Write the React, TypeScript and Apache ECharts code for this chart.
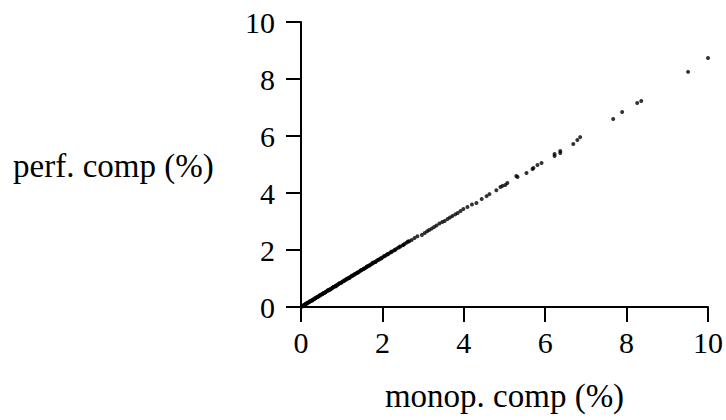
import React, { useEffect, useRef } from "react";
import * as echarts from "echarts";

const xTicks = [0, 2, 4, 6, 8, 10];
const xAxisTitle = "monop. comp (%)";
const yAxisTitle = "perf. comp (%)";

const monopComp = [
  0.02, 0.04, 0.05, 0.07, 0.09, 0.1, 0.12, 0.14, 0.15, 0.17, 0.19, 0.21, 0.23, 0.25, 0.27, 0.29,
  0.31, 0.33, 0.35, 0.37, 0.39, 0.41, 0.43, 0.45, 0.47, 0.5, 0.52, 0.54, 0.56, 0.58, 0.6, 0.62,
  0.65, 0.67, 0.69, 0.71, 0.74, 0.76, 0.78, 0.8, 0.83, 0.85, 0.87, 0.9, 0.92, 0.95, 0.97, 1.0,
  1.02, 1.05, 1.07, 1.1, 1.12, 1.15, 1.18, 1.2, 1.23, 1.26, 1.28, 1.31, 1.34, 1.37, 1.4, 1.43,
  1.46, 1.49, 1.52, 1.55, 1.58, 1.61, 1.64, 1.67, 1.7, 1.74, 1.77, 1.8, 1.84, 1.87, 1.91, 1.95,
  1.99, 2.03, 2.07, 2.11, 2.15, 2.2, 2.24, 2.29, 2.34, 2.39, 2.44, 2.5, 2.55, 2.6, 2.66, 2.72,
  2.79, 2.86, 2.97, 3.04, 3.1, 3.15, 3.21, 3.27, 3.33, 3.4, 3.47, 3.53, 3.6, 3.66, 3.72, 3.79,
  3.85, 3.92, 3.99, 4.09, 4.2, 4.31, 4.44, 4.56, 4.63, 4.8, 4.9, 4.95, 5.02, 5.07, 5.29, 5.32,
  5.54, 5.69, 5.71, 5.81, 5.91, 6.23, 6.23, 6.37, 6.37, 6.69, 6.79, 6.86, 7.67, 7.89, 8.26, 8.36,
  9.51, 10.0,
  0.06, 0.11, 0.16, 0.22, 0.28, 0.34, 0.4, 0.46, 0.53, 0.59, 0.66, 0.72, 0.79, 0.86, 0.93, 0.99,
  1.06, 1.13, 1.19, 1.25, 1.32, 1.39, 1.47, 1.54, 1.62, 1.69, 1.76, 1.83, 1.9, 1.97, 2.05, 2.13,
  2.22, 2.31, 2.42, 2.52, 2.63,
];

const perfComp = [
  0.02, 0.03, 0.05, 0.06, 0.08, 0.09, 0.11, 0.12, 0.13, 0.15, 0.17, 0.18, 0.2, 0.22, 0.24, 0.25,
  0.27, 0.29, 0.31, 0.32, 0.34, 0.36, 0.37, 0.39, 0.41, 0.44, 0.45, 0.47, 0.49, 0.5, 0.52, 0.54,
  0.57, 0.58, 0.6, 0.62, 0.64, 0.66, 0.68, 0.7, 0.72, 0.74, 0.76, 0.78, 0.8, 0.83, 0.84, 0.87,
  0.89, 0.91, 0.93, 0.96, 0.97, 1.0, 1.03, 1.04, 1.07, 1.1, 1.11, 1.14, 1.17, 1.19, 1.22, 1.24,
  1.27, 1.3, 1.32, 1.35, 1.37, 1.4, 1.43, 1.45, 1.48, 1.51, 1.54, 1.57, 1.6, 1.63, 1.66, 1.7,
  1.73, 1.77, 1.8, 1.84, 1.87, 1.91, 1.95, 1.99, 2.04, 2.08, 2.12, 2.17, 2.22, 2.26, 2.31, 2.35,
  2.42, 2.48, 2.53, 2.6, 2.66, 2.7, 2.75, 2.81, 2.86, 2.93, 2.98, 3.02, 3.09, 3.14, 3.19, 3.25,
  3.3, 3.37, 3.44, 3.51, 3.6, 3.65, 3.79, 3.89, 3.96, 4.1, 4.21, 4.25, 4.28, 4.35, 4.6, 4.56,
  4.7, 4.84, 4.88, 4.98, 5.05, 5.3, 5.37, 5.4, 5.47, 5.72, 5.86, 5.96, 6.6, 6.84, 7.16, 7.23,
  8.25, 8.74,
  0.04, 0.1, 0.15, 0.2, 0.23, 0.3, 0.35, 0.41, 0.46, 0.51, 0.59, 0.61, 0.69, 0.73, 0.82, 0.85,
  0.93, 0.99, 1.02, 1.1, 1.15, 1.2, 1.29, 1.33, 1.42, 1.46, 1.55, 1.58, 1.66, 1.7, 1.79, 1.85,
  1.94, 2.0, 2.11, 2.18, 2.3,
];

const FONT = '"Liberation Serif", "Times New Roman", serif';

export default function App() {
  const ref = useRef<HTMLDivElement>(null);
  useEffect(() => {
    document.body.style.margin = "0";
    if (!ref.current) return;
    const chart = echarts.init(ref.current, undefined, { renderer: "svg" });
    const points = monopComp.map((x, i) => [x, perfComp[i]]);
    const axisCommon = {
      min: xTicks[0],
      max: xTicks[xTicks.length - 1],
      interval: 2,
      splitLine: { show: false },
      axisLine: { lineStyle: { color: "#000", width: 2 } },
      axisTick: { inside: false, length: 15, lineStyle: { color: "#000", width: 2 } },
      axisLabel: { color: "#000", fontFamily: FONT, fontSize: 30 },
    };
    chart.setOption({
      animation: false,
      backgroundColor: "#fff",
      grid: { left: 301, right: 17, top: 22, bottom: 113 },
      xAxis: {
        type: "value",
        ...axisCommon,
        axisLabel: { ...axisCommon.axisLabel, margin: 20 },
        name: xAxisTitle,
        nameLocation: "middle",
        nameGap: 72,
        nameTextStyle: { color: "#000", fontFamily: FONT, fontSize: 33 },
      },
      yAxis: {
        type: "value",
        ...axisCommon,
        axisLabel: { ...axisCommon.axisLabel, margin: 26 },
      },
      graphic: [
        {
          type: "text",
          x: 13,
          y: 166,
          style: {
            text: yAxisTitle,
            fill: "#000",
            font: `33px ${FONT}`,
            verticalAlign: "middle",
            align: "left",
          },
        },
      ],
      series: [
        {
          type: "scatter",
          data: points,
          symbol: "circle",
          symbolSize: 4,
          itemStyle: { color: "#000" },
        },
      ],
    });
    return () => chart.dispose();
  }, []);
  return <div ref={ref} style={{ width: 726, height: 420 }} />;
}
